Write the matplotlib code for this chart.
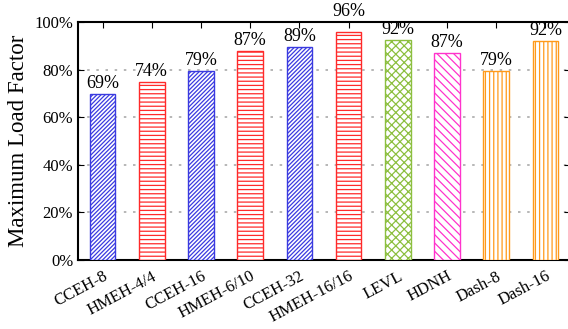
import matplotlib
matplotlib.use("Agg")
import matplotlib.pyplot as plt
import numpy as np

categories = ["CCEH-8", "HMEH-4/4", "CCEH-16", "HMEH-6/10", "CCEH-32",
              "HMEH-16/16", "LEVL", "HDNH", "Dash-8", "Dash-16"]
values = [69.6, 74.8, 79.4, 87.8, 89.5, 95.9, 92.6, 87.1, 79.4, 92.1]
value_labels = ["69%", "74%", "79%", "87%", "89%", "96%", "92%", "87%", "79%", "92%"]
yticks = [0, 20, 40, 60, 80, 100]
ytick_labels = ["0%", "20%", "40%", "60%", "80%", "100%"]

colors = ["#3a3ae0", "#ff2a2a", "#3a3ae0", "#ff2a2a", "#3a3ae0",
          "#ff2a2a", "#8cbf3f", "#ff33cc", "#ff9a1a", "#ff9a1a"]
hatches = ["////////", "----", "////////", "----", "////////",
           "----", "xxxx", "\\\\\\\\", "||||", "||||"]

plt.rcParams["font.family"] = ["Liberation Serif", "DejaVu Serif"]
plt.rcParams["hatch.linewidth"] = 0.9

fig = plt.figure(figsize=(5.68, 3.29), dpi=100)
ax = fig.add_axes([78 / 568, 1 - 260 / 329, 492 / 568, 238 / 329])

x = np.arange(len(categories))
for i in range(len(categories)):
    plt.rcParams["hatch.color"] = colors[i]
    ax.bar(x[i], values[i], width=0.52, facecolor="white",
           edgecolor=colors[i], hatch=hatches[i], linewidth=1.0, zorder=3)
    y_text = values[i] + 0.8
    if y_text > 95:
        y_text = 101.0  # lift above the top spine
    ax.text(x[i], y_text, value_labels[i], ha="center", va="bottom",
            fontsize=13, zorder=4, clip_on=False)

ax.set_xlim(-0.5, len(categories) - 0.5)
ax.set_ylim(0, 100)
ax.set_yticks(yticks)
ax.set_yticklabels(ytick_labels, fontsize=12)
ax.set_xticks(x)
ax.set_xticklabels(categories, rotation=28, ha="right", rotation_mode="anchor",
                   fontsize=12)
ax.set_ylabel("Maximum Load Factor", fontsize=16.5)
ax.yaxis.grid(True, linestyle=(0, (1.5, 4)), color="#aaaaaa", linewidth=1.2, zorder=0)
ax.set_axisbelow(True)
ax.tick_params(axis="both", direction="in", top=True, right=True, length=4)
ax.tick_params(axis="x", pad=6)
for s in ax.spines.values():
    s.set_linewidth(1.5)

fig.savefig("out.png", dpi=100)
